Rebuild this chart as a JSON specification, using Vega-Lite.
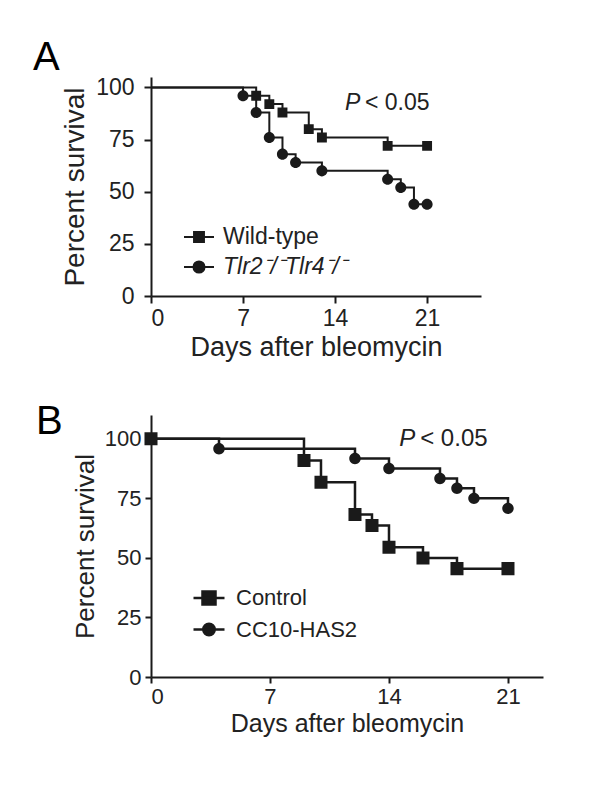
{
  "$schema": "https://vega.github.io/schema/vega-lite/v6.json",
  "background": "white",
  "padding": {"left": 33, "top": 38, "right": 10, "bottom": 10},
  "spacing": 42,
  "resolve": {"scale": {"color": "independent", "fill": "independent"}, "legend": {"color": "independent", "fill": "independent"}},
  "config": {
    "view": {"stroke": null},
    "font": "Liberation Sans",
    "axis": {
      "grid": false,
      "domainColor": "#1a1a1a",
      "domainWidth": 2,
      "tickColor": "#1a1a1a",
      "tickWidth": 2,
      "tickSize": 7,
      "labelColor": "#222222",
      "labelFont": "Liberation Sans",
      "titleColor": "#222222",
      "titleFont": "Liberation Sans",
      "titleFontWeight": "normal"
    },
    "legend": {"labelFont": "Liberation Sans", "labelColor": "#222222"},
    "title": {"font": "Liberation Sans", "fontWeight": "normal", "color": "#000000"}
  },
  "datasets": {
    "survA": [
      {"group": "Wild-type", "day": 0, "pct": 100, "marker": false},
      {"group": "Wild-type", "day": 8, "pct": 96, "marker": true},
      {"group": "Wild-type", "day": 9, "pct": 92, "marker": true},
      {"group": "Wild-type", "day": 10, "pct": 88, "marker": true},
      {"group": "Wild-type", "day": 12, "pct": 80, "marker": true},
      {"group": "Wild-type", "day": 13, "pct": 76, "marker": true},
      {"group": "Wild-type", "day": 18, "pct": 72, "marker": true},
      {"group": "Wild-type", "day": 21, "pct": 72, "marker": true},
      {"group": "Tlr2⁻/⁻Tlr4⁻/⁻", "day": 0, "pct": 100, "marker": false},
      {"group": "Tlr2⁻/⁻Tlr4⁻/⁻", "day": 7, "pct": 96, "marker": true},
      {"group": "Tlr2⁻/⁻Tlr4⁻/⁻", "day": 8, "pct": 88, "marker": true},
      {"group": "Tlr2⁻/⁻Tlr4⁻/⁻", "day": 9, "pct": 76, "marker": true},
      {"group": "Tlr2⁻/⁻Tlr4⁻/⁻", "day": 10, "pct": 68, "marker": true},
      {"group": "Tlr2⁻/⁻Tlr4⁻/⁻", "day": 11, "pct": 64, "marker": true},
      {"group": "Tlr2⁻/⁻Tlr4⁻/⁻", "day": 13, "pct": 60, "marker": true},
      {"group": "Tlr2⁻/⁻Tlr4⁻/⁻", "day": 18, "pct": 56, "marker": true},
      {"group": "Tlr2⁻/⁻Tlr4⁻/⁻", "day": 19, "pct": 52, "marker": true},
      {"group": "Tlr2⁻/⁻Tlr4⁻/⁻", "day": 20, "pct": 44, "marker": true},
      {"group": "Tlr2⁻/⁻Tlr4⁻/⁻", "day": 21, "pct": 44, "marker": true}
    ],
    "survB": [
      {"group": "Control", "day": 0, "pct": 100, "marker": true},
      {"group": "Control", "day": 9, "pct": 90.9, "marker": true},
      {"group": "Control", "day": 10, "pct": 81.8, "marker": true},
      {"group": "Control", "day": 12, "pct": 68.2, "marker": true},
      {"group": "Control", "day": 13, "pct": 63.6, "marker": true},
      {"group": "Control", "day": 14, "pct": 54.5, "marker": true},
      {"group": "Control", "day": 16, "pct": 50, "marker": true},
      {"group": "Control", "day": 18, "pct": 45.5, "marker": true},
      {"group": "Control", "day": 21, "pct": 45.5, "marker": true},
      {"group": "CC10-HAS2", "day": 0, "pct": 100, "marker": false},
      {"group": "CC10-HAS2", "day": 4, "pct": 95.8, "marker": true},
      {"group": "CC10-HAS2", "day": 12, "pct": 91.7, "marker": true},
      {"group": "CC10-HAS2", "day": 14, "pct": 87.5, "marker": true},
      {"group": "CC10-HAS2", "day": 17, "pct": 83.3, "marker": true},
      {"group": "CC10-HAS2", "day": 18, "pct": 79.2, "marker": true},
      {"group": "CC10-HAS2", "day": 19, "pct": 75, "marker": true},
      {"group": "CC10-HAS2", "day": 21, "pct": 70.8, "marker": true}
    ],
    "pA": [{"day": 14.75, "pct": 89, "p": "P", "rest": "< 0.05"}],
    "pB": [{"day": 14.6, "pct": 97, "p": "P", "rest": "< 0.05"}]
  },
  "vconcat": [
    {
      "width": 330,
      "height": 219,
      "title": {"text": "A", "anchor": "start", "frame": "group", "dx": -118, "fontSize": 40, "offset": -2},
      "layer": [
        {
          "data": {"name": "survA"},
          "mark": {"type": "line", "interpolate": "step-after", "strokeWidth": 2, "color": "#1a1a1a"},
          "encoding": {
            "x": {"field": "day", "type": "quantitative", "scale": {"domain": [0, 25.1], "nice": false},
                  "axis": {"values": [0, 7, 14, 21], "title": "Days after bleomycin", "labelFontSize": 23, "titleFontSize": 27, "labelPadding": 4, "titlePadding": 4}},
            "y": {"field": "pct", "type": "quantitative", "scale": {"domain": [0, 105], "nice": false},
                  "axis": {"values": [0, 25, 50, 75, 100], "title": "Percent survival", "labelFontSize": 23, "titleFontSize": 28, "labelPadding": 10, "titlePadding": 6}},
            "detail": {"field": "group"}
          }
        },
        {
          "data": {"name": "survA"},
          "transform": [{"filter": "datum.marker && datum.group == 'Wild-type'"}],
          "mark": {"type": "point", "filled": true, "opacity": 1, "size": 900, "shape": "M-1,0H1M-0.33,-0.33H0.33V0.33H-0.33Z"},
          "encoding": {
            "x": {"field": "day", "type": "quantitative"},
            "y": {"field": "pct", "type": "quantitative"},
            "fill": {
              "field": "group", "type": "nominal",
              "scale": {"domain": ["Wild-type"], "range": ["#1a1a1a"]},
              "legend": {
                "title": null, "orient": "none", "legendX": 32, "legendY": 144, "padding": 0,
                "symbolType": "M-1,0H1M-0.33,-0.33H0.33V0.33H-0.33Z",
                "symbolSize": 900, "symbolStrokeWidth": 2, "symbolStrokeColor": "#1a1a1a",
                "labelOffset": 8, "labelFontSize": 23
              }
            }
          }
        },
        {
          "data": {"name": "survA"},
          "transform": [{"filter": "datum.marker && datum.group != 'Wild-type'"}],
          "mark": {"type": "point", "filled": true, "opacity": 1, "size": 900, "shape": "M-1,0H1M0.37,0A0.37,0.37,0,1,1,-0.37,0A0.37,0.37,0,1,1,0.37,0Z"},
          "encoding": {
            "x": {"field": "day", "type": "quantitative"},
            "y": {"field": "pct", "type": "quantitative"},
            "color": {
              "field": "group", "type": "nominal",
              "scale": {"domain": ["Tlr2⁻/⁻Tlr4⁻/⁻"], "range": ["#1a1a1a"]},
              "legend": {
                "title": null, "orient": "none", "legendX": 32, "legendY": 174, "padding": 0,
                "symbolType": "M-1,0H1M0.37,0A0.37,0.37,0,1,1,-0.37,0A0.37,0.37,0,1,1,0.37,0Z",
                "symbolSize": 900, "symbolStrokeWidth": 2, "symbolStrokeColor": "#1a1a1a",
                "labelOffset": 8, "labelFontSize": 23, "labelFontStyle": "italic"
              }
            }
          }
        },
        {
          "data": {"name": "pA"},
          "mark": {"type": "text", "align": "left", "baseline": "alphabetic", "fontSize": 23, "fontStyle": "italic", "color": "#222222"},
          "encoding": {"x": {"field": "day", "type": "quantitative"}, "y": {"field": "pct", "type": "quantitative"}, "text": {"field": "p"}}
        },
        {
          "data": {"name": "pA"},
          "mark": {"type": "text", "align": "left", "baseline": "alphabetic", "fontSize": 23, "dx": 20, "color": "#222222"},
          "encoding": {"x": {"field": "day", "type": "quantitative"}, "y": {"field": "pct", "type": "quantitative"}, "text": {"field": "rest"}}
        }
      ]
    },
    {
      "width": 392,
      "height": 262,
      "title": {"text": "B", "anchor": "start", "frame": "group", "dx": -115, "dy": 31, "fontSize": 40, "offset": 4},
      "layer": [
        {
          "data": {"name": "survB"},
          "mark": {"type": "line", "interpolate": "step-after", "strokeWidth": 2.5, "color": "#1a1a1a"},
          "encoding": {
            "x": {"field": "day", "type": "quantitative", "scale": {"domain": [0, 23.06], "nice": false},
                  "axis": {"values": [0, 7, 14, 21], "title": "Days after bleomycin", "labelFontSize": 22, "titleFontSize": 25, "labelPadding": 3, "titlePadding": 4, "tickSize": 6}},
            "y": {"field": "pct", "type": "quantitative", "scale": {"domain": [0, 110], "nice": false},
                  "axis": {"values": [0, 25, 50, 75, 100], "title": "Percent survival", "labelFontSize": 22, "titleFontSize": 26, "labelPadding": 4, "titlePadding": 6, "tickSize": 6}},
            "detail": {"field": "group"}
          }
        },
        {
          "data": {"name": "survB"},
          "transform": [{"filter": "datum.marker && datum.group == 'Control'"}],
          "mark": {"type": "point", "filled": true, "opacity": 1, "size": 961, "shape": "M-1,0H1M-0.42,-0.42H0.42V0.42H-0.42Z"},
          "encoding": {
            "x": {"field": "day", "type": "quantitative"},
            "y": {"field": "pct", "type": "quantitative"},
            "fill": {
              "field": "group", "type": "nominal",
              "scale": {"domain": ["Control"], "range": ["#1a1a1a"]},
              "legend": {
                "title": null, "orient": "none", "legendX": 41, "legendY": 166, "padding": 0,
                "symbolType": "M-1,0H1M-0.42,-0.42H0.42V0.42H-0.42Z",
                "symbolSize": 961, "symbolStrokeWidth": 2.5, "symbolStrokeColor": "#1a1a1a",
                "labelOffset": 10, "labelFontSize": 22
              }
            }
          }
        },
        {
          "data": {"name": "survB"},
          "transform": [{"filter": "datum.marker && datum.group == 'CC10-HAS2'"}],
          "mark": {"type": "point", "filled": true, "opacity": 1, "size": 961, "shape": "M-1,0H1M0.37,0A0.37,0.37,0,1,1,-0.37,0A0.37,0.37,0,1,1,0.37,0Z"},
          "encoding": {
            "x": {"field": "day", "type": "quantitative"},
            "y": {"field": "pct", "type": "quantitative"},
            "color": {
              "field": "group", "type": "nominal",
              "scale": {"domain": ["CC10-HAS2"], "range": ["#1a1a1a"]},
              "legend": {
                "title": null, "orient": "none", "legendX": 41, "legendY": 197.5, "padding": 0,
                "symbolType": "M-1,0H1M0.37,0A0.37,0.37,0,1,1,-0.37,0A0.37,0.37,0,1,1,0.37,0Z",
                "symbolSize": 961, "symbolStrokeWidth": 2.5, "symbolStrokeColor": "#1a1a1a",
                "labelOffset": 10, "labelFontSize": 22
              }
            }
          }
        },
        {
          "data": {"name": "pB"},
          "mark": {"type": "text", "align": "left", "baseline": "alphabetic", "fontSize": 24, "fontStyle": "italic", "color": "#222222"},
          "encoding": {"x": {"field": "day", "type": "quantitative"}, "y": {"field": "pct", "type": "quantitative"}, "text": {"field": "p"}}
        },
        {
          "data": {"name": "pB"},
          "mark": {"type": "text", "align": "left", "baseline": "alphabetic", "fontSize": 24, "dx": 21, "color": "#222222"},
          "encoding": {"x": {"field": "day", "type": "quantitative"}, "y": {"field": "pct", "type": "quantitative"}, "text": {"field": "rest"}}
        }
      ]
    }
  ]
}
